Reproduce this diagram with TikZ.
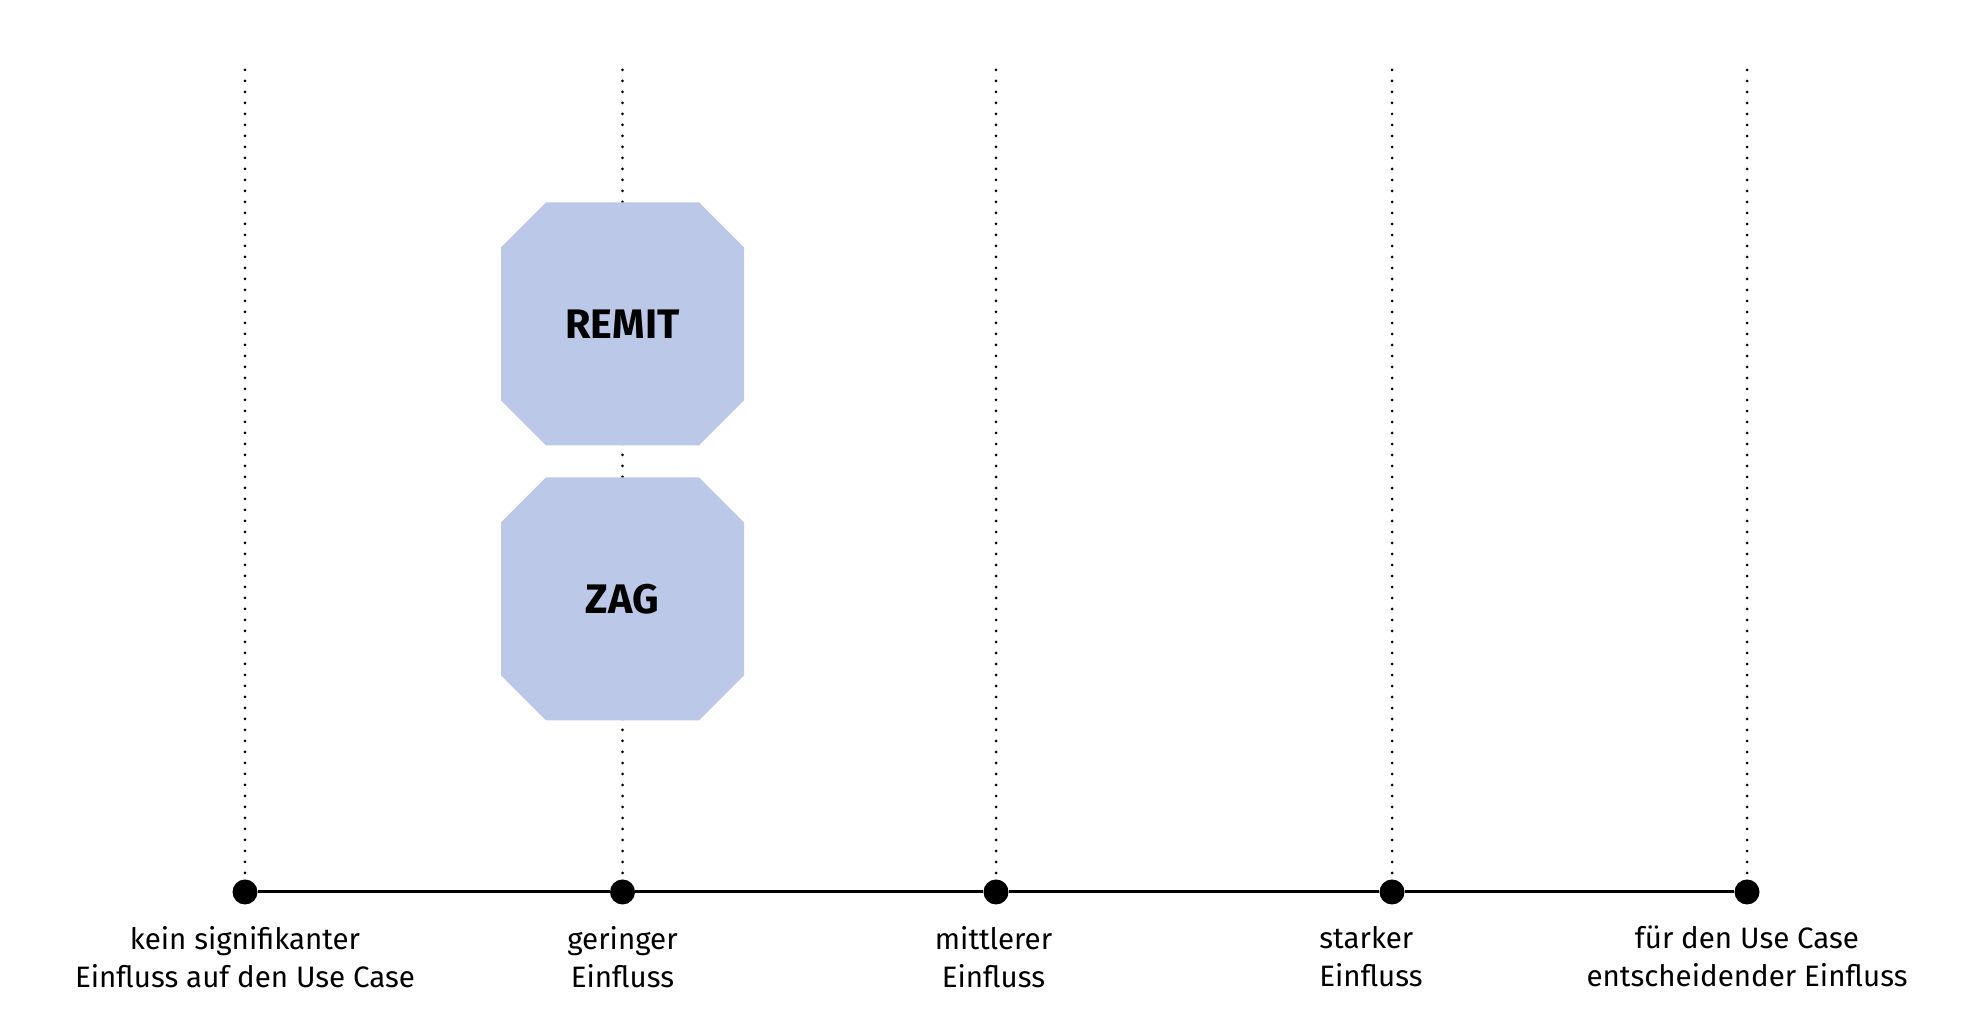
\documentclass[tikz,border=0pt]{standalone}
\usepackage{fontspec}
\setmainfont{Fira Sans}
\usetikzlibrary{positioning,calc}
\definecolor{octblau}{RGB}{187,200,232}
\tikzset{
  punkt/.style={
    circle,
    fill=black,
    inner sep=0pt,
    minimum size=0.5cm
  },
  stufe/.style={
    align=center,
    inner sep=0pt,
    font=\fontsize{16.8}{21.6}\selectfont
  },
  hilfslinie/.style={
    line width=0.06cm,
    dash pattern=on 0pt off 0.22cm,
    line cap=round
  },
  achse/.style={
    line width=0.06cm
  },
  regelwerk/.style={
    rectangle,
    minimum width=4.86cm,
    minimum height=4.86cm,
    inner sep=0pt,
    font=\fontsize{23.5}{28}\selectfont\bfseries,
    path picture={
      \fill[octblau]
        ($(path picture bounding box.north west)+(0.9,0)$) --
        ($(path picture bounding box.north east)+(-0.9,0)$) --
        ($(path picture bounding box.north east)+(0,-0.9)$) --
        ($(path picture bounding box.south east)+(0,0.9)$) --
        ($(path picture bounding box.south east)+(-0.9,0)$) --
        ($(path picture bounding box.south west)+(0.9,0)$) --
        ($(path picture bounding box.south west)+(0,0.9)$) --
        ($(path picture bounding box.north west)+(0,-0.9)$) -- cycle;
    }
  }
}

\begin{document}
\begin{tikzpicture}
  \useasboundingbox (0,0) rectangle (39.68,20.18);

  % Punkte der Skala
  \node[punkt] (kein) at (4.90,2.34) {};
  \node[punkt] (gering) at (12.45,2.34) {};
  \node[punkt] (mittel) at (19.92,2.34) {};
  \node[punkt] (stark) at (27.84,2.34) {};
  \node[punkt] (entsch) at (34.94,2.34) {};

  % Obere Enden der Hilfslinien
  \coordinate (kein top) at (4.90,18.78);
  \coordinate (gering top) at (12.45,18.78);
  \coordinate (mittel top) at (19.92,18.78);
  \coordinate (stark top) at (27.84,18.78);
  \coordinate (entsch top) at (34.94,18.78);

  % Gepunktete Linien
  \draw[hilfslinie] (kein top) -- (kein);
  \draw[hilfslinie] (gering top) -- (gering);
  \draw[hilfslinie] (mittel top) -- (mittel);
  \draw[hilfslinie] (stark top) -- (stark);
  \draw[hilfslinie] (entsch top) -- (entsch);

  % Achse
  \draw[achse] (kein) -- (gering);
  \draw[achse] (gering) -- (mittel);
  \draw[achse] (mittel) -- (stark);
  \draw[achse] (stark) -- (entsch);

  % Beschriftungen
  \node[stufe, below=0.42cm of kein] (kein text) {kein signifikanter\\Einfluss auf den Use Case};
  \node[stufe, below=0.42cm of gering] (gering text) {geringer\\Einfluss};
  \node[stufe, below=0.42cm of mittel, xshift=-0.05cm] (mittel text) {mittlerer\\Einfluss};
  \node[stufe, below=0.42cm of stark, xshift=-0.42cm, align=left] (stark text) {starker\\Einfluss};
  \node[stufe, below=0.42cm of entsch] (entsch text) {f\"ur den Use Case\\entscheidender Einfluss};

  % Regelwerke
  \node[regelwerk] (remit) at (12.45,13.70) {REMIT};
  \node[regelwerk] (zag) at (12.45,8.20) {ZAG};
\end{tikzpicture}
\end{document}
